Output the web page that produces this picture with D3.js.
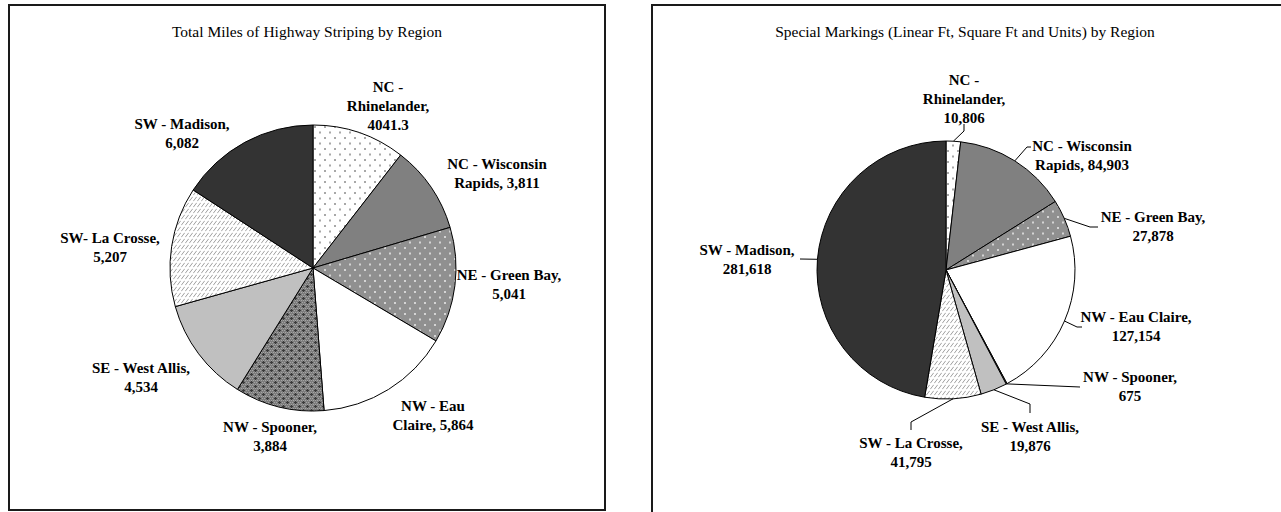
<!DOCTYPE html>
<html><head><meta charset="utf-8">
<script src="https://cdn.jsdelivr.net/npm/d3@7"></script>
<style>html,body{margin:0;padding:0;background:#fff;overflow:hidden}</style>
</head><body>
<svg id="c" width="1281" height="512"></svg>
<script>
// ---- data ----
const categories = ["NC - Rhinelander","NC - Wisconsin Rapids","NE - Green Bay","NW - Eau Claire","NW - Spooner","SE - West Allis","SW - La Crosse","SW - Madison"];
const milesValues = [4041.3, 3811, 5041, 5864, 3884, 4534, 5207, 6082];
const markingsValues = [10806, 84903, 27878, 127154, 675, 19876, 41795, 281618];
const milesLabels = [["NC -","Rhinelander,","4041.3"],["NC - Wisconsin","Rapids, 3,811"],["NE - Green Bay,","5,041"],["NW - Eau","Claire, 5,864"],["NW - Spooner,","3,884"],["SE - West Allis,","4,534"],["SW- La Crosse,","5,207"],["SW - Madison,","6,082"]];
const markingsLabels = [["NC -","Rhinelander,","10,806"],["NC - Wisconsin","Rapids, 84,903"],["NE - Green Bay,","27,878"],["NW - Eau Claire,","127,154"],["NW - Spooner,","675"],["SE - West Allis,","19,876"],["SW - La Crosse,","41,795"],["SW - Madison,","281,618"]];
const titles = ["Total Miles of Highway Striping by Region","Special Markings (Linear Ft, Square Ft and Units) by Region"];

// ---- styles / layout ----
const fills = ["url(#pDots)","#808080","url(#pGreen)","#ffffff","url(#pCross)","#c0c0c0","url(#pHatch)","#333333"];
const svg = d3.select("#c");
const defs = svg.append("defs");

// patterns
let p = defs.append("pattern").attr("id","pDots").attr("patternUnits","userSpaceOnUse").attr("width",10).attr("height",11);
p.append("rect").attr("width",10).attr("height",11).attr("fill","#fff");
p.append("rect").attr("x",1).attr("y",1).attr("width",2).attr("height",2).attr("fill","#a8a8a8");
p.append("rect").attr("x",6).attr("y",6.5).attr("width",2).attr("height",2).attr("fill","#a8a8a8");

p = defs.append("pattern").attr("id","pGreen").attr("patternUnits","userSpaceOnUse").attr("width",10).attr("height",11);
p.append("rect").attr("width",10).attr("height",11).attr("fill","#909090");
p.append("rect").attr("x",1).attr("y",1).attr("width",2).attr("height",2).attr("fill","#d4d4d4");
p.append("rect").attr("x",6).attr("y",6.5).attr("width",2).attr("height",2).attr("fill","#d4d4d4");

p = defs.append("pattern").attr("id","pCross").attr("patternUnits","userSpaceOnUse").attr("width",8).attr("height",8);
p.append("rect").attr("width",8).attr("height",8).attr("fill","#7c7c7c");
for (let i=0;i<8;i+=2) for (let j=0;j<8;j+=2) p.append("rect").attr("x",i+((j/2)%2)).attr("y",j).attr("width",1).attr("height",1).attr("fill","#a4a4a4");
[[2,2],[6,6]].forEach(([cx,cy])=>{
  p.append("rect").attr("x",cx-1).attr("y",cy).attr("width",3).attr("height",1).attr("fill","#3a3a3a");
  p.append("rect").attr("x",cx).attr("y",cy-1).attr("width",1).attr("height",3).attr("fill","#3a3a3a");
});

p = defs.append("pattern").attr("id","pHatch").attr("patternUnits","userSpaceOnUse").attr("width",4).attr("height",6);
p.append("rect").attr("width",4).attr("height",6).attr("fill","#fff");
p.append("path").attr("d","M0.3,5.2 L3.7,0.8").attr("stroke","#a0a0a0").attr("stroke-width",1);

// frames
svg.append("rect").attr("x",9).attr("y",5).attr("width",596).attr("height",505)
  .attr("fill","none").attr("stroke","#1a1a1a").attr("stroke-width",2);
svg.append("rect").attr("x",652).attr("y",5).attr("width",700).attr("height",600)
  .attr("fill","none").attr("stroke","#1a1a1a").attr("stroke-width",2);

const font = "'Liberation Serif','Times New Roman',serif";

function drawPie(cfg){
  const g = svg.append("g").attr("transform",`translate(${cfg.cx},${cfg.cy})`);
  const pie = d3.pie().sort(null).value(d=>d)(cfg.values);
  const arc = d3.arc().innerRadius(0).outerRadius(cfg.r);
  g.selectAll("path.slice").data(pie).join("path").attr("class","slice")
    .attr("d",arc).attr("fill",(d,i)=>fills[i]).attr("stroke","#000").attr("stroke-width",1).attr("stroke-linejoin","round");
  // leader lines
  if (cfg.leaders){
    pie.forEach((d,i)=>{
      const pts = cfg.leaders[i]; if(!pts) return;
      const a = (d.startAngle+d.endAngle)/2;
      const start = [cfg.r*Math.sin(a), -cfg.r*Math.cos(a)];
      g.append("path").attr("d", d3.line()([start, ...pts]))
        .attr("fill","none").attr("stroke","#000").attr("stroke-width",1);
    });
  }
  // labels
  cfg.labels.forEach((lines,i)=>{
    const [dx,dy] = cfg.labelPos[i];
    const t = g.append("text").attr("text-anchor","middle").attr("font-family",font)
      .attr("font-weight","bold").attr("font-size",cfg.fs).attr("fill","#000");
    lines.forEach((ln,k)=>{
      t.append("tspan").attr("x",dx).attr("y",dy + k*cfg.lh).attr("dy","0.35em").text(ln);
    });
  });
  svg.append("text").attr("x",cfg.tx).attr("y",cfg.ty).attr("dy","0.35em").attr("text-anchor","middle")
    .attr("font-family",font).attr("font-size",15.5).attr("fill","#000").text(cfg.title);
}

drawPie({
  cx:313, cy:268, r:143, values:milesValues, labels:milesLabels, fs:15, lh:19,
  title:titles[0], tx:307, ty:32,
  labelPos:[[75,-181],[184,-104],[196,7],[120,138],[-43,159],[-172,100],[-203,-30],[-131,-144]]
});
drawPie({
  cx:946, cy:270, r:129, values:markingsValues, labels:markingsLabels, fs:15, lh:19,
  title:titles[1], tx:965, ty:32,
  labelPos:[[18,-190],[136,-124],[207,-53],[190,47],[184,107],[84,157],[-35,173],[-199,-20]],
  leaders:[[[18,-139],[18,-146]],[[81,-123],[85,-123]],[[144,-43],[152,-43]],[[131,57],[136,57]],[[134,117]],[[84,134],[84,143]],[[-35,152],[-35,160]],[[-146,-11]]]
});
</script>
</body></html>
